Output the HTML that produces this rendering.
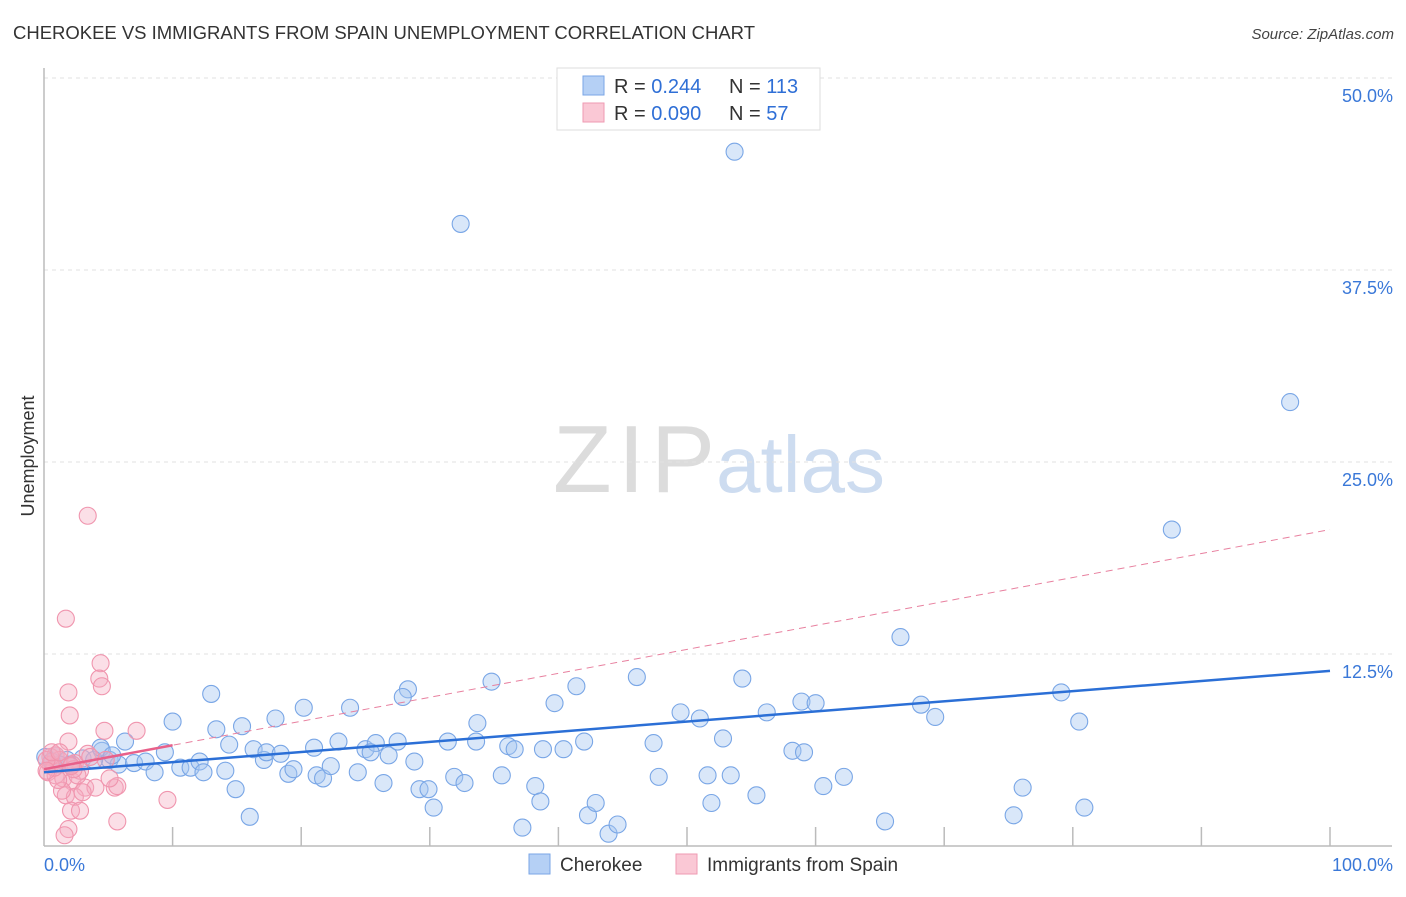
<!DOCTYPE html>
<html><head><meta charset="utf-8"><style>
body{margin:0;background:#fff;font-family:"Liberation Sans",sans-serif;}
svg text{font-family:"Liberation Sans",sans-serif;}
</style></head><body>
<svg id="chart" width="1406" height="892" viewBox="0 0 1406 892" xmlns="http://www.w3.org/2000/svg">
<text x="13" y="39" font-size="18.5" fill="#333" textLength="742">CHEROKEE VS IMMIGRANTS FROM SPAIN UNEMPLOYMENT CORRELATION CHART</text>
<text x="1394" y="39" font-size="15" fill="#444" text-anchor="end" font-style="italic">Source: ZipAtlas.com</text>
<g>
<text x="553" y="492" font-size="96" fill="#dcdcdc" font-family="Liberation Serif, serif" textLength="162">ZIP</text>
<text x="716" y="492" font-size="80" fill="#cddcf0">atlas</text>
</g>
<g id="grid"></g>
<g id="axes"></g>
<g id="pts-blue"></g>
<g id="pts-pink"></g>
<g id="trends"></g>
<text transform="translate(34,456) rotate(-90)" font-size="18" fill="#333" text-anchor="middle">Unemployment</text>
<g>
<rect x="557" y="68" width="263" height="62" fill="#fff" stroke="#ddd"/>
<rect x="583" y="76" width="21" height="19" fill="#b5d0f5" stroke="#7aa6e6"/>
<rect x="583" y="103" width="21" height="19" fill="#fac8d5" stroke="#ef9ab2"/>
<text x="614" y="93" font-size="20" fill="#333">R = <tspan fill="#2f6fd6">0.244</tspan></text>
<text x="729" y="93" font-size="20" fill="#333">N = <tspan fill="#2f6fd6">113</tspan></text>
<text x="614" y="120" font-size="20" fill="#333">R = <tspan fill="#2f6fd6">0.090</tspan></text>
<text x="729" y="120" font-size="20" fill="#333">N = <tspan fill="#2f6fd6"> 57</tspan></text>
</g>
<g>
<rect x="529" y="854" width="21" height="20" fill="#b5d0f5" stroke="#7aa6e6"/>
<text x="560" y="871" font-size="19" fill="#333">Cherokee</text>
<rect x="676" y="854" width="21" height="20" fill="#fac8d5" stroke="#ef9ab2"/>
<text x="707" y="871" font-size="19" fill="#333">Immigrants from Spain</text>
</g>
</svg>
<script>
const yTicks=[12.5,25,37.5,50];
const yTickLabels=["12.5%","25.0%","37.5%","50.0%"];
const xTickLabels=["0.0%","100.0%"];
const blueX=[53.7,32.4,96.9,87.7,66.6,79.1,80.5,68.2,69.3,54.3,46.1,41.4,34.8,28.3,27.9,23.8,20.2,18.0,13.0,10.0,13.4,15.4,6.3,9.4,4.5,5.1,5.8,7.0,7.9,8.6,10.6,11.4,12.1,12.4,14.1,14.4,16.3,17.1,17.3,18.4,19.0,19.4,21.0,21.2,21.7,22.3,22.9,24.4,25.0,25.8,25.4,26.8,27.5,26.4,28.8,29.2,29.9,30.3,31.4,31.9,32.7,33.7,33.6,35.6,36.1,36.6,38.2,38.6,38.8,39.7,40.4,42.0,42.3,42.9,43.9,44.6,47.4,47.8,49.5,51.0,51.6,51.9,52.8,53.4,55.4,56.2,58.2,58.9,59.1,60.0,60.6,62.2,65.4,75.4,76.1,80.9,14.9,16.0,37.2,0.9,1.8,3.0,3.9,4.4,5.3,1.2,2.0,0.1,0.6];
const blueY=[45.2,40.5,28.9,20.6,13.6,10.0,8.1,9.2,8.4,10.9,11.0,10.4,10.7,10.2,9.7,9.0,9.0,8.3,9.9,8.1,7.6,7.8,6.8,6.1,6.2,5.6,5.3,5.4,5.5,4.8,5.1,5.1,5.5,4.8,4.9,6.6,6.3,5.6,6.1,6.0,4.7,5.0,6.4,4.6,4.4,5.2,6.8,4.8,6.3,6.7,6.1,5.9,6.8,4.1,5.5,3.7,3.7,2.5,6.8,4.5,4.1,8.0,6.8,4.6,6.5,6.3,3.9,2.9,6.3,9.3,6.3,6.8,2.0,2.8,0.8,1.4,6.7,4.5,8.7,8.3,4.6,2.8,7.0,4.6,3.3,8.7,6.2,9.4,6.1,9.3,3.9,4.5,1.6,2.0,3.8,2.5,3.7,1.9,1.2,5.9,5.6,5.7,5.6,6.4,5.9,5.3,5.3,5.8,5.5];
const pinkX=[3.4,1.7,4.4,4.3,4.5,1.9,2.0,4.7,7.2,1.9,3.4,0.9,1.2,2.4,0.5,0.3,0.9,1.5,2.2,2.8,3.2,4.0,5.5,5.7,1.7,2.4,1.4,1.1,0.5,0.8,3.0,9.6,2.1,2.8,1.9,1.6,5.7,5.1,4.8,3.6,0.2,0.6,1.2,0.2,2.6,2.2,2.3,2.1];
const pinkY=[21.5,14.8,11.9,10.9,10.4,10.0,8.5,7.5,7.5,6.8,6.0,5.9,5.6,5.4,5.3,4.8,4.6,4.4,4.2,4.9,3.8,3.8,3.8,3.9,3.3,3.2,3.6,4.3,5.8,5.1,3.5,3.0,2.3,2.3,1.1,0.7,1.6,4.4,5.6,5.8,5.6,6.1,6.1,4.9,4.6,5.3,5.0,5.2];
const blueTrend=[4.8,11.4];
const pinkTrend=[5.0,20.6];
const pinkSolidEnd=10;

const NS="http://www.w3.org/2000/svg";
const X0=44,X1=1330,Y0=846,YPER=192/12.5;
const sx=v=>X0+(X1-X0)*v/100;
const sy=v=>Y0-v*YPER;
function mk(tag,attrs,parent){const e=document.createElementNS(NS,tag);for(const k in attrs)e.setAttribute(k,attrs[k]);parent.appendChild(e);return e;}

const grid=document.getElementById('grid');
yTicks.forEach((t,i)=>{
  const l=mk('line',{x1:X0,x2:1392,y1:sy(t),y2:sy(t),stroke:'#e2e2e2','stroke-dasharray':'4,4'},grid);
  
  
  const tx=mk('text',{x:1393,y:sy(t)+24,'font-size':18,fill:'#3a78d8','text-anchor':'end'},grid);
  tx.textContent=yTickLabels[i];
  
  
});
const axes=document.getElementById('axes');
mk('line',{x1:X0,x2:X0,y1:68,y2:Y0,stroke:'#bbb','stroke-width':1.5},axes);
mk('line',{x1:X0,x2:1392,y1:Y0,y2:Y0,stroke:'#bbb','stroke-width':1.5},axes);
for(let i=1;i<=10;i++){
  const t=mk('line',{x1:sx(i*10),x2:sx(i*10),y1:827,y2:Y0,stroke:'#bbb','stroke-width':1.5},axes);
  
  
}
[0,100].forEach((v,i)=>{
  const tx=mk('text',{x:i?1393:44,y:871,'font-size':18,fill:'#3a78d8','text-anchor':i?'end':'start'},axes);
  tx.textContent=xTickLabels[i];
  
  
});
const gb=document.getElementById('pts-blue');
blueX.forEach((x,i)=>{
  const c=mk('circle',{cx:sx(x),cy:sy(blueY[i]),r:8.5,fill:'rgba(165,198,240,0.42)',stroke:'#79a6e6','stroke-width':1.1},gb);
  
  
});
const gp=document.getElementById('pts-pink');
pinkX.forEach((x,i)=>{
  const c=mk('circle',{cx:sx(x),cy:sy(pinkY[i]),r:8.5,fill:'rgba(245,170,192,0.38)',stroke:'#f095ae','stroke-width':1.1},gp);
  
  
});
const tr=document.getElementById('trends');
const pd=mk('line',{x1:sx(0),y1:sy(pinkTrend[0]),x2:sx(100),y2:sy(pinkTrend[1]),stroke:'#e8809f','stroke-width':1,'stroke-dasharray':'7,5'},tr);


const pe=pinkTrend[0]+(pinkTrend[1]-pinkTrend[0])*pinkSolidEnd/100;
const ps=mk('line',{x1:sx(0),y1:sy(pinkTrend[0]),x2:sx(pinkSolidEnd),y2:sy(pe),stroke:'#e8608a','stroke-width':2.5},tr);


const bl=mk('line',{x1:sx(0),y1:sy(blueTrend[0]),x2:sx(100),y2:sy(blueTrend[1]),stroke:'#2b6fd6','stroke-width':2.5},tr);


</script>
</body></html>
